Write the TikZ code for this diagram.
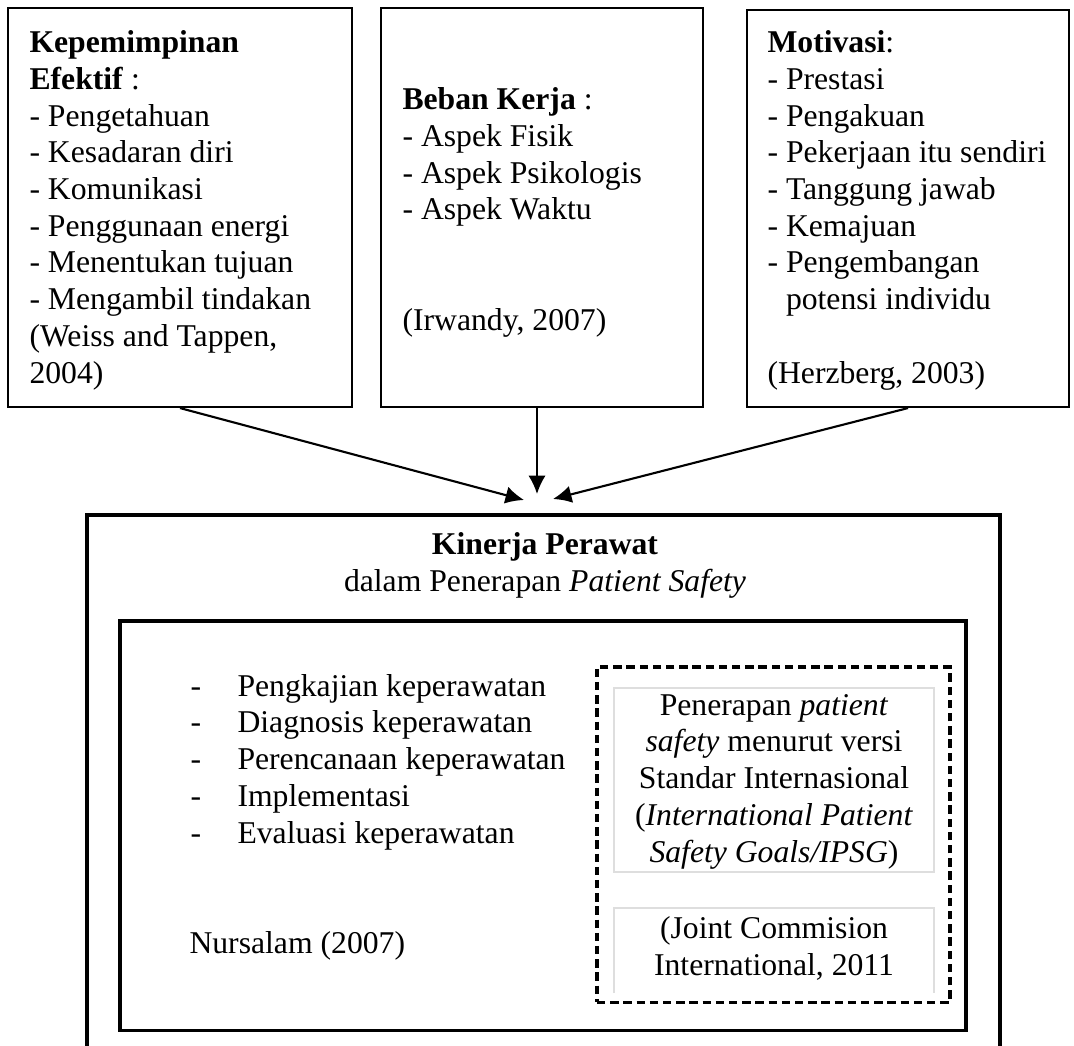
\documentclass[tikz,border=0pt]{standalone}
\usepackage{fontspec}
\setmainfont{Liberation Serif}
\usepackage{tikz}
\usetikzlibrary{arrows.meta,fit}
\tikzset{
  txt/.style={anchor=base west, align=left, inner sep=0pt, font=\fontsize{12}{13.9}\selectfont},
  ctxt/.style={txt, anchor=base, align=center},
  topbox/.style={draw, line width=0.8pt, inner sep=0pt},
  outerbox/.style={draw, line width=1.15pt, inner sep=0pt},
  dashbox/.style={draw, line width=1.15pt, dash pattern=on 3.2pt off 1.8pt, inner sep=0pt},
  graybox/.style={draw=black!13, line width=0.4pt},
  arr/.style={line width=0.8pt, -{Latex[length=7pt,width=6.6pt]}}
}

\begin{document}
\begin{tikzpicture}[x=0.3788pt, y=-0.3788pt]
				\useasboundingbox (0,0) rectangle (1074,1045);
				
				% text nodes sit on the baseline of their last line
				\node[topbox, fit={(8,8) (352,407)}] (lead) {};
				\node[txt] (leadtxt) at (29,383) {\textbf{Kepemimpinan}\\\textbf{Efektif} :\\- Pengetahuan\\- Kesadaran diri\\- Komunikasi\\- Penggunaan energi\\- Menentukan tujuan\\- Mengambil tindakan\\(Weiss and Tappen,\\2004)};
				
				\node[topbox, fit={(381,8) (703,407)}] (load) {};
				\node[txt] (loadtxt) at (402,330) {\textbf{Beban Kerja} :\\- Aspek Fisik\\- Aspek Psikologis\\- Aspek Waktu\\[27.8pt](Irwandy, 2007)};
				
				\node[topbox, fit={(747,10) (1069,407)}] (motiv) {};
				\node[txt] (motivtxt) at (767,383) {\textbf{Motivasi}:\\- Prestasi\\- Pengakuan\\- Pekerjaan itu sendiri\\- Tanggung jawab\\- Kemajuan\\- Pengembangan\\\phantom{- }potensi individu\\[13.9pt](Herzberg, 2003)};
				
				\coordinate (tipL) at (524,500);
				\coordinate (tipM) at (537,494);
				\coordinate (tipR) at (553,499);
				\draw[arr] (lead.south) -- (tipL);
				\draw[arr] (tipM |- load.south) -- (tipM);
				\draw[arr] (motiv.south) -- (tipR);
				
				\node[outerbox, fit={(87,515) (1000,1070)}] (perf) {};
				\node[ctxt] (perftxt) at (545,591) {\textbf{Kinerja Perawat}\\dalam Penerapan \textit{Patient Safety}};
				
				\node[outerbox, fit={(120,621) (966,1030)}] (proc) {};
				\node[txt] (proctxt) at (190,843) {\makebox[17.8pt][l]{-}Pengkajian keperawatan\\\makebox[17.8pt][l]{-}Diagnosis keperawatan\\\makebox[17.8pt][l]{-}Perencanaan keperawatan\\\makebox[17.8pt][l]{-}Implementasi\\\makebox[17.8pt][l]{-}Evaluasi keperawatan};
				\node[txt] (proccite) at (189,953) {Nursalam (2007)};
				
				\node[dashbox, fit={(597,667) (950,1002)}] (ipsg) {};
				\draw[graybox] (614,688) rectangle (934,872);
				\node[ctxt] (ipsgtxt) at (774,862) {Penerapan \textit{patient}\\\textit{safety} menurut versi\\Standar Internasional\\(\textit{International Patient}\\\textit{Safety Goals/IPSG})};
				\draw[graybox] (614,993) -- (614,908) -- (934,908) -- (934,993);
				\node[ctxt] (ipsgcite) at (774,975) {(Joint Commision\\International, 2011};
			\end{tikzpicture}
\end{document}
